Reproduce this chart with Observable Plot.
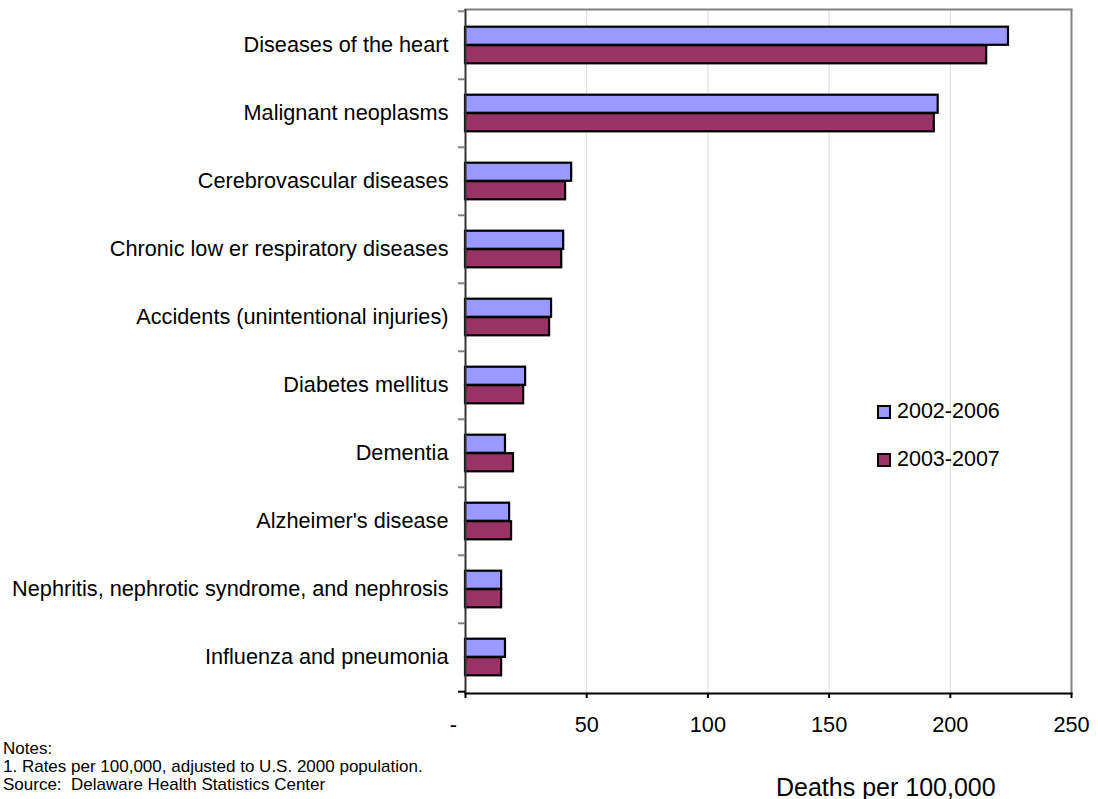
<!DOCTYPE html>
<html><head><meta charset="utf-8">
<script src="https://cdn.jsdelivr.net/npm/d3@7"></script>
<script src="https://cdn.jsdelivr.net/npm/@observablehq/plot@0.6"></script>
<style>
body{margin:0;background:#fff;font-family:"Liberation Sans",Arial,sans-serif;color:#000;}
#wrap{position:relative;width:1098px;}
.leg{position:absolute;left:877px;font-size:21.5px;line-height:21px;white-space:nowrap;}
.leg span.sw{display:inline-block;width:10px;height:10px;border:2px solid #000;vertical-align:top;margin-top:4px;margin-right:6px;}
#footer{position:relative;width:1098px;height:59px;}
#notes{position:absolute;left:3px;top:0;font-size:17px;line-height:18px;white-space:nowrap;}
#xlabel{position:absolute;left:776px;top:35px;font-size:25px;line-height:24px;white-space:nowrap;}
</style></head><body>
<div id="wrap"></div>
<div id="footer">
  <div id="notes">Notes:<br>1. Rates per 100,000, adjusted to U.S. 2000 population.<br>Source:&nbsp; Delaware Health Statistics Center</div>
  <div id="xlabel">Deaths per 100,000</div>
</div>
<script>
const categories = [
  "Diseases of the heart",
  "Malignant neoplasms",
  "Cerebrovascular diseases",
  "Chronic low er respiratory diseases",
  "Accidents (unintentional injuries)",
  "Diabetes mellitus",
  "Dementia",
  "Alzheimer's disease",
  "Nephritis, nephrotic syndrome, and nephrosis",
  "Influenza and pneumonia"
];
const series = ["2002-2006", "2003-2007"];
const values2002 = [224, 195, 43.8, 40.5, 35.5, 24.8, 16.5, 18.2, 14.9, 16.5];
const values2003 = [215, 193.4, 41.3, 39.7, 34.7, 24.0, 19.8, 19.0, 14.9, 14.9];
const xTicks = [0, 50, 100, 150, 200, 250];
const gridTicks = [50, 100, 150, 200];
const colors = ["#9999ff", "#993366"];

const data = categories.flatMap((c, i) => [
  {category: c, series: series[0], value: values2002[i]},
  {category: c, series: series[1], value: values2003[i]}
]);

const W = 1098, H = 740, mt = 9, mb = 47, ml = 465, mr = 27;
const step = (H - mt - mb) / categories.length;
const barH = 18.5;
const outer = (step - 2 * barH) / 2;

const chart = Plot.plot({
  width: W, height: H,
  marginTop: mt, marginBottom: mb, marginLeft: ml, marginRight: mr,
  style: {fontFamily: "Liberation Sans, Arial, sans-serif", fontSize: "21.7px", color: "#000", background: "#fff"},
  x: {domain: [0, 250], label: null},
  y: {domain: categories, padding: 0, label: null},
  color: {domain: series, range: colors},
  marks: [
    Plot.ruleX(gridTicks, {stroke: "#d9d9d9", strokeWidth: 1}),
    Plot.ruleX([250], {stroke: "#808080", strokeWidth: 2}),
    Plot.frame({anchor: "top", stroke: "#808080", strokeWidth: 2}),
    Plot.barX(data.filter(d => d.series === series[0]), {
      x: "value", y: "category", fill: "series", stroke: "#000", strokeWidth: 2.2,
      insetTop: outer, insetBottom: step - outer - barH
    }),
    Plot.barX(data.filter(d => d.series === series[1]), {
      x: "value", y: "category", fill: "series", stroke: "#000", strokeWidth: 2.2,
      insetTop: outer + barH, insetBottom: outer
    }),
    Plot.ruleX([0], {stroke: "#333", strokeWidth: 2}),
    Plot.frame({anchor: "bottom", stroke: "#000", strokeWidth: 2}),
    Plot.axisY({tickSize: 0, tickPadding: 17, fontSize: 21.7, label: null}),
    Plot.axisY({tickSize: 7, tickFormat: () => "", dy: -step / 2, stroke: "#808080", strokeWidth: 2, label: null}),
    Plot.axisY({ticks: [categories[categories.length - 1]], tickSize: 7, tickFormat: () => "", dy: step / 2, stroke: "#000", strokeWidth: 2, label: null}),
    Plot.axisX({ticks: xTicks, tickSize: 5, tickPadding: 18, fontSize: 21.7, stroke: "#000", strokeWidth: 2, label: null,
      tickFormat: d => d === 0 ? "-\u00a0\u00a0\u00a0\u00a0" : String(d)})
  ]
});

const wrap = document.getElementById("wrap");
wrap.appendChild(chart);

series.forEach((s, i) => {
  const el = document.createElement("div");
  el.className = "leg";
  el.style.top = (401 + i * 48) + "px";
  el.innerHTML = `<span class="sw" style="background:${colors[i]}"></span>${s}`;
  wrap.appendChild(el);
});
</script>
</body></html>
